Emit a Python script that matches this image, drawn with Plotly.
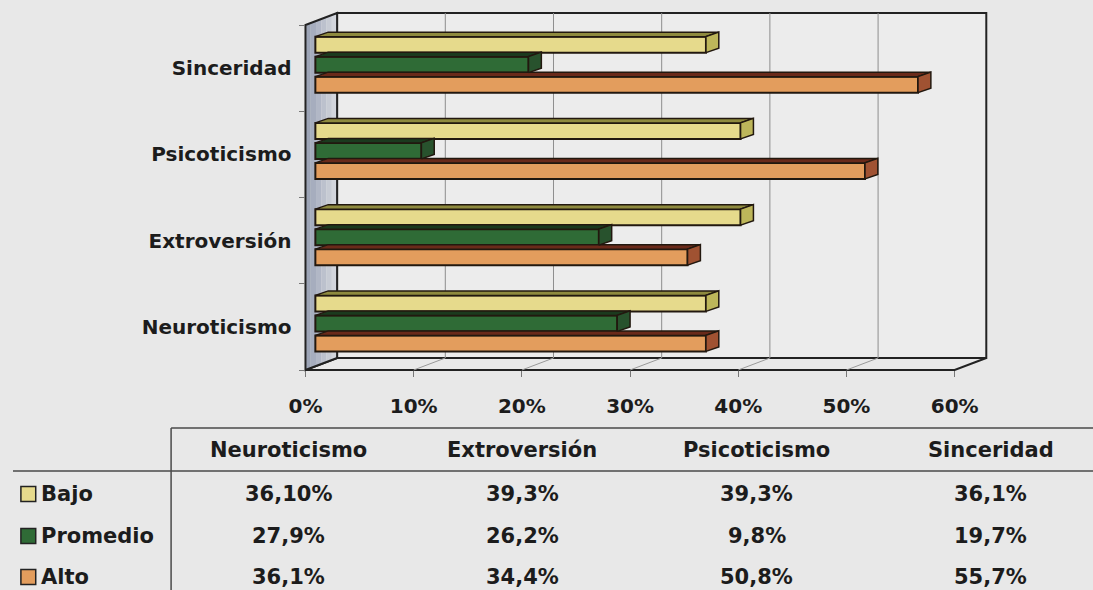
import plotly.graph_objects as go

# ---------------- data ----------------
categories = ["Neuroticismo", "Extroversión", "Psicoticismo", "Sinceridad"]
series_names = ["Bajo", "Promedio", "Alto"]
bajo = [36.1, 39.3, 39.3, 36.1]
promedio = [27.9, 26.2, 9.8, 19.7]
alto = [36.1, 34.4, 50.8, 55.7]
bajo_txt = ["36,10%", "39,3%", "39,3%", "36,1%"]
promedio_txt = ["27,9%", "26,2%", "9,8%", "19,7%"]
alto_txt = ["36,1%", "34,4%", "50,8%", "55,7%"]
x_ticks = [0, 10, 20, 30, 40, 50, 60]
x_tick_labels = ["0%", "10%", "20%", "30%", "40%", "50%", "60%"]

# ---------------- geometry (pixels) ----------------
W, H = 1093, 590
X0 = 296.0          # px of 0% on the front plane
PPX = 10.95         # px per percent
YB = 370.0          # px of front floor line
PPY = 86.25         # px per category
PL, PR, PT, PB = 292, 993, 8, 374   # plot area in px


def dx(p):
    return p / PPX


def dy(p):
    return p / PPY


xr = [(PL - X0) / PPX, (PR - X0) / PPX]
yr = [-0.5 - (PB - YB) / PPY, -0.5 + (YB - PT) / PPY]

BX, BY = dx(32), dy(12)          # back wall depth
BAR_X = dx(10)                   # bar front-face start
DDX, DDY = dx(13), dy(4.5)       # bar depth
BAR_H = dy(16)
SHIFT = 3.5
offsets = {"Bajo": 20, "Promedio": 0, "Alto": -20}

colors = {
    "Bajo": dict(front="#e6da8c", top="#8e8a3e", side="#bdb65a"),
    "Promedio": dict(front="#2f6b36", top="#1b3a1e", side="#28522d"),
    "Alto": dict(front="#e39d5d", top="#6a2a1a", side="#a05232"),
}
OUTLINE = "#22180f"
TXT = "#1c1c1c"
FONT = "DejaVu Sans"

fig = go.Figure()

# ---------------- 3D frame (shapes below traces) ----------------
xmax = x_ticks[-1]
ylo, yhi = -0.5, len(categories) - 0.5


def path(pts, close=True):
    return "M " + " L ".join(f"{x},{y}" for x, y in pts) + (" Z" if close else "")


shapes = []
# back wall
shapes.append(dict(type="path", xref="x", yref="y", layer="below",
                   path=path([(BX, ylo + BY), (xmax + BX, ylo + BY), (xmax + BX, yhi + BY), (BX, yhi + BY)]),
                   fillcolor="#ececec", line=dict(color="#222222", width=2)))
# floor
shapes.append(dict(type="path", xref="x", yref="y", layer="below",
                   path=path([(0, ylo), (xmax, ylo), (xmax + BX, ylo + BY), (BX, ylo + BY)]),
                   fillcolor="#e9e9e9", line=dict(color="#222222", width=2)))
# left side wall: strips approximating a gradient
wall_cols = ["#9ca4b6", "#a6adbe", "#b1b7c6", "#bcc1cd", "#c7cbd4", "#d2d5dc"]
n = len(wall_cols)
for k, col in enumerate(wall_cols):
    a, b = BX * k / n, BX * (k + 1) / n
    fa, fb = BY * k / n, BY * (k + 1) / n
    shapes.append(dict(type="path", xref="x", yref="y", layer="below",
                       path=path([(a, ylo + fa), (b, ylo + fb), (b, yhi + fb), (a, yhi + fa)]),
                       fillcolor=col, line=dict(width=0)))
shapes.append(dict(type="path", xref="x", yref="y", layer="below",
                   path=path([(0, ylo), (BX, ylo + BY), (BX, yhi + BY), (0, yhi)]),
                   line=dict(color="#222222", width=2)))
# gridlines on back wall and floor
for t in x_ticks[1:-1]:
    shapes.append(dict(type="line", xref="x", yref="y", layer="below",
                       x0=t + BX, x1=t + BX, y0=ylo + BY, y1=yhi + BY,
                       line=dict(color="#8e8e8e", width=1)))
    shapes.append(dict(type="line", xref="x", yref="y", layer="below",
                       x0=t, x1=t + BX, y0=ylo, y1=ylo + BY,
                       line=dict(color="#9a9a9a", width=1)))

# ---------------- bars ----------------
series_vals = {"Bajo": bajo, "Promedio": promedio, "Alto": alto}
for name in ["Alto", "Promedio", "Bajo"]:
    vals = series_vals[name]
    c = colors[name]
    yc = [i + dy(SHIFT + offsets[name]) for i in range(len(categories))]
    tx, ty, sx, sy = [], [], [], []
    for v, y in zip(vals, yc):
        top_y = y + BAR_H / 2
        bot_y = y - BAR_H / 2
        tx += [BAR_X, BAR_X + v, BAR_X + v + DDX, BAR_X + DDX, BAR_X, None]
        ty += [top_y, top_y, top_y + DDY, top_y + DDY, top_y, None]
        sx += [BAR_X + v, BAR_X + v + DDX, BAR_X + v + DDX, BAR_X + v, BAR_X + v, None]
        sy += [bot_y, bot_y + DDY, top_y + DDY, top_y, bot_y, None]
    fig.add_trace(go.Bar(y=yc, x=vals, base=[BAR_X] * len(vals), orientation="h",
                         width=BAR_H, name=name,
                         marker=dict(color=c["front"], line=dict(color=OUTLINE, width=2)),
                         showlegend=False))
    fig.add_trace(go.Scatter(x=tx, y=ty, mode="lines", fill="toself", fillcolor=c["top"],
                             line=dict(color=OUTLINE, width=1.5), hoverinfo="skip", showlegend=False))
    fig.add_trace(go.Scatter(x=sx, y=sy, mode="lines", fill="toself", fillcolor=c["side"],
                             line=dict(color=OUTLINE, width=1.5), hoverinfo="skip", showlegend=False))

# ---------------- axes ----------------
fig.update_xaxes(range=xr, domain=[PL / W, PR / W], anchor="free", position=1 - YB / H,
                 tickmode="array", tickvals=x_ticks, ticktext=x_tick_labels,
                 ticks="outside", ticklen=6, tickcolor="#777777", tickwidth=1,
                 ticklabelstandoff=12,
                 showgrid=False, zeroline=False, showline=False,
                 tickfont=dict(family=FONT, size=20, color=TXT, weight="bold"))
fig.update_yaxes(range=yr, domain=[1 - PB / H, 1 - PT / H], anchor="free", position=X0 / W,
                 tickmode="array", tickvals=list(range(len(categories))), ticktext=categories,
                 ticks="", showgrid=False, zeroline=False, showline=False,
                 ticklabelstandoff=14,
                 minor=dict(tickmode="array", tickvals=[i - 0.5 for i in range(len(categories) + 1)],
                            ticks="outside", ticklen=6, tickcolor="#777777", showgrid=False),
                 tickfont=dict(family=FONT, size=20, color=TXT, weight="bold"))

# ---------------- data table ----------------
TBL_LEFT = 160
COL_W = 237
HEAD_Y = 450
ROW_Y = [494, 536, 577]
LINE_TOP, LINE_MID = 428, 471
TFONT = dict(family=FONT, size=21, color=TXT, weight="bold")
LFONT = dict(family=FONT, size=21, color=TXT, weight="bold")

shapes.append(dict(type="line", xref="paper", yref="paper", x0=TBL_LEFT / W, x1=1,
                   y0=1 - LINE_TOP / H, y1=1 - LINE_TOP / H, line=dict(color="#4a4a4a", width=1.5)))
shapes.append(dict(type="line", xref="paper", yref="paper", x0=0, x1=1,
                   y0=1 - LINE_MID / H, y1=1 - LINE_MID / H, line=dict(color="#4a4a4a", width=1.5)))
shapes.append(dict(type="line", xref="paper", yref="paper", x0=TBL_LEFT / W, x1=TBL_LEFT / W,
                   y0=1 - LINE_TOP / H, y1=0, line=dict(color="#4a4a4a", width=1.5)))

ann = []
for j, cat in enumerate(categories):
    cx = (TBL_LEFT + COL_W * (j + 0.5)) / W
    ann.append(dict(x=cx, y=1 - HEAD_Y / H, xref="paper", yref="paper", text=cat, showarrow=False,
                    xanchor="center", yanchor="middle", font=TFONT))
row_txt = {"Bajo": bajo_txt, "Promedio": promedio_txt, "Alto": alto_txt}
for r, name in enumerate(series_names):
    ry = ROW_Y[r]
    shapes.append(dict(type="rect", xref="paper", yref="paper",
                       x0=8 / W, x1=23 / W, y0=1 - (ry + 7.5) / H, y1=1 - (ry - 7.5) / H,
                       fillcolor=colors[name]["front"], line=dict(color="#222222", width=1.5)))
    ann.append(dict(x=26 / W, y=1 - ry / H, xref="paper", yref="paper", text=name, showarrow=False,
                    xanchor="left", yanchor="middle", font=LFONT))
    for j, t in enumerate(row_txt[name]):
        cx = (TBL_LEFT + COL_W * (j + 0.5)) / W
        ann.append(dict(x=cx, y=1 - ry / H, xref="paper", yref="paper", text=t, showarrow=False,
                        xanchor="center", yanchor="middle", font=TFONT))

fig.update_layout(
    width=W, height=H, margin=dict(l=0, r=0, t=0, b=0),
    paper_bgcolor="#e8e8e8", plot_bgcolor="rgba(0,0,0,0)",
    barmode="overlay", showlegend=False,
    shapes=shapes, annotations=ann,
)

fig.write_html("out.html", config={"displayModeBar": False},
               post_script="document.body.style.margin='0';document.body.style.overflow='hidden';")
